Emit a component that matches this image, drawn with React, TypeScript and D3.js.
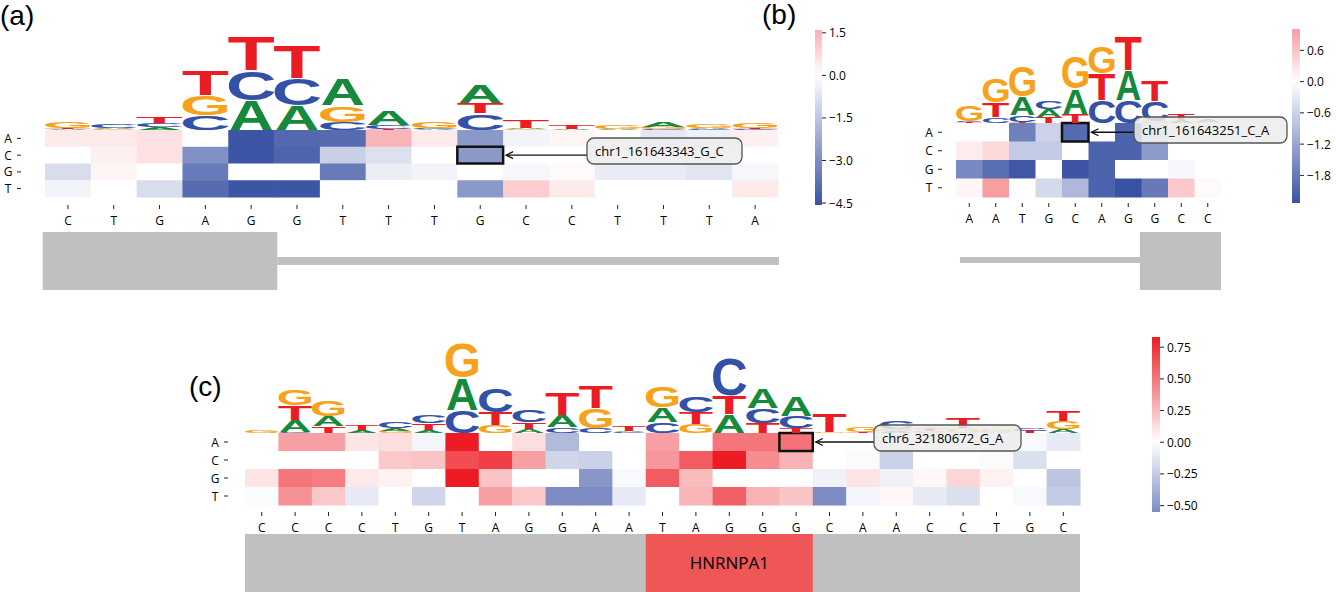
import React, { useEffect, useRef } from "react";
import * as d3 from "d3";

// bases (heatmap rows) and logo colours
const BASES = ["A", "C", "G", "T"];
const BASE_COLORS: Record<string, string> = {
  A: "#15893c",
  C: "#3351a6",
  G: "#f7a21b",
  T: "#ec1c24",
};
const BLUE = "#3a52a4";
const RED = "#ed1c24";

// ---------- panel (a) ----------
const seqA = ["C", "T", "G", "A", "G", "G", "T", "T", "T", "G", "C", "C", "T", "T", "T", "A"];
const heatA = [
  [0.4, 0.4, 0.6, 0, -4.5, -4.0, -3.9, 1.5, 0.4, -2.7, -0.3, 0.2, 0, -0.6, -0.4, 0.3],
  [0, 0.3, 0.6, -2.9, -4.5, -4.1, -1.25, -0.8, 0, -2.7, 0, 0, 0, 0, -0.1, 0],
  [-0.9, 0.2, 0, -3.5, 0, 0, -3.5, -0.45, -0.3, 0, -0.2, 0.1, -0.5, -0.5, -0.7, -0.2],
  [-0.3, 0, -0.9, -3.9, -4.5, -4.5, 0, 0, 0, -2.7, 1.0, 0.4, 0, 0, 0, 0.4],
];
const logoA: [string, number][][] = [
  [["A", 0.1], ["T", 0.1], ["G", 0.6]],
  [["G", 0.1], ["A", 0.1], ["C", 0.4]],
  [["A", 0.3], ["C", 0.4], ["T", 0.6]],
  [["C", 1.5], ["G", 2.0], ["T", 2.5]],
  [["A", 3.0], ["C", 3.0], ["T", 3.5]],
  [["A", 2.5], ["C", 2.7], ["T", 3.3]],
  [["C", 0.8], ["G", 1.7], ["A", 2.7]],
  [["T", 0.1], ["C", 0.4], ["A", 1.4]],
  [["A", 0.1], ["C", 0.1], ["G", 0.6]],
  [["C", 1.7], ["T", 1.0], ["A", 1.8]],
  [["G", 0.1], ["A", 0.1], ["T", 0.8]],
  [["A", 0.1], ["T", 0.4]],
  [["A", 0.1], ["G", 0.4]],
  [["C", 0.1], ["G", 0.2], ["A", 0.5]],
  [["C", 0.1], ["A", 0.1], ["G", 0.4]],
  [["C", 0.1], ["T", 0.1], ["G", 0.5]],
];
const cbTicksA = [1.5, 0, -1.5, -3.0, -4.5];
const geneA = [
  { from: -0.05, to: 5.07, kind: "exon", label: "" },
  { from: 5.07, to: 16.02, kind: "intron", label: "" },
];

// ---------- panel (b) ----------
const seqB = ["A", "A", "T", "G", "C", "A", "G", "G", "C", "C"];
const heatB = [
  [0, 0, -1.7, -0.6, -2.0, 0, -2.1, -0.5, 0, 0],
  [0.2, 0.4, -0.7, -0.7, 0, -2.1, -2.1, -1.35, 0, 0],
  [-1.6, -1.95, -2.25, 0, -2.3, -2.1, 0, 0, -0.1, 0],
  [0.1, 1.0, 0, -0.5, -0.95, -2.1, -2.33, -1.8, 0.55, 0.05],
];
const logoB: [string, number][][] = [
  [["T", 0.1], ["C", 0.1], ["G", 1.7]],
  [["C", 0.6], ["T", 1.5], ["G", 2.5]],
  [["T", 0.1], ["C", 0.7], ["A", 1.8], ["G", 3.2]],
  [["T", 0.6], ["A", 0.8], ["C", 0.8]],
  [["T", 0.9], ["A", 2.5], ["G", 3.3]],
  [["C", 2.3], ["T", 2.7], ["G", 2.8]],
  [["C", 2.3], ["A", 3.0], ["T", 3.5]],
  [["G", 0.2], ["C", 2.0], ["T", 2.1]],
  [["A", 0.3], ["T", 0.7]],
  [["G", 0.1], ["A", 0.2]],
];
const cbTicksB = [0.6, 0, -0.6, -1.2, -1.8];
const geneB = [
  { from: 0.15, to: 6.94, kind: "intron", label: "" },
  { from: 6.94, to: 10, kind: "exon", label: "" },
];

// ---------- panel (c) ----------
const seqC = ["C", "C", "C", "C", "T", "G", "T", "A", "G", "G", "A", "A", "T", "A", "G", "G", "G", "C", "A", "A", "C", "C", "T", "G", "C"];
const heatC = [
  [0, 0.35, 0.35, 0.1, 0.12, -0.05, 0.83, 0, 0.12, -0.33, 0, 0, 0.35, 0, 0.5, 0.5, 0.52, 0, 0, 0, -0.02, 0, 0, -0.03, -0.1],
  [0, 0, 0, 0, 0.2, 0.22, 0.65, 0.7, 0.35, -0.2, -0.22, 0, 0.38, 0.6, 0.83, 0.42, 0.28, 0, -0.02, -0.22, 0, 0, -0.02, -0.15, 0],
  [0.1, 0.5, 0.48, 0.08, 0.05, 0, 0.83, 0.22, 0, 0, -0.5, -0.03, 0.6, 0.25, 0, 0, 0, -0.06, 0.1, -0.06, 0.03, 0.15, 0.05, 0, -0.28],
  [-0.02, 0.4, 0.2, -0.1, 0, -0.2, 0, 0.35, 0.2, -0.55, -0.55, -0.1, 0, 0.27, 0.58, 0.28, 0.22, -0.55, -0.05, 0.03, -0.1, -0.15, 0, -0.03, -0.25],
];
const logoC: [string, number][][] = [
  [["G", 0.3]],
  [["C", 0.1], ["A", 1.2], ["T", 1.5], ["G", 1.7]],
  [["T", 0.7], ["A", 1.0], ["G", 1.7]],
  [["A", 0.3], ["T", 0.5]],
  [["G", 0.2], ["A", 0.3], ["C", 0.7]],
  [["A", 0.3], ["T", 0.7], ["C", 0.8]],
  [["C", 2.3], ["A", 3.2], ["G", 3.5]],
  [["G", 0.8], ["T", 1.3], ["C", 2.5]],
  [["A", 0.4], ["T", 0.7], ["C", 1.2]],
  [["C", 0.6], ["A", 1.2], ["T", 2.3]],
  [["C", 0.5], ["G", 2.0], ["T", 2.3]],
  [["C", 0.1], ["A", 0.1], ["T", 0.5]],
  [["C", 1.1], ["A", 1.5], ["G", 2.2]],
  [["G", 0.9], ["T", 1.2], ["C", 1.7]],
  [["A", 1.9], ["T", 1.8], ["C", 3.8]],
  [["T", 1.0], ["C", 1.5], ["A", 2.0]],
  [["T", 0.5], ["C", 1.2], ["A", 2.0]],
  [["G", 0.1], ["T", 1.9]],
  [["T", 0.1], ["G", 0.6]],
  [["A", 0.2], ["G", 0.2], ["C", 0.8]],
  [["G", 0.2], ["T", 0.3]],
  [["G", 0.5], ["T", 1.0]],
  [["A", 0.1], ["G", 0.3]],
  [["T", 0.2], ["C", 0.3]],
  [["A", 0.4], ["G", 0.8], ["T", 1.0]],
];
const cbTicksC = [0.75, 0.5, 0.25, 0, -0.25, -0.5];
const geneC = [
  { from: 0, to: 25, kind: "exon", label: "" },
  { from: 12, to: 17, kind: "motif", label: "HNRNPA1" },
];

// glyph ink boxes for Liberation Sans Bold (em units): xMin, xMax, yMin, yMax
const GLYPH: Record<string, number[]> = {
  A: [0.0, 0.722, 0, 0.716],
  C: [0.043, 0.679, -0.012, 0.728],
  G: [0.046, 0.723, -0.012, 0.728],
  T: [0.019, 0.593, 0, 0.716],
};

const panels = [
  {
    tag: "(a)", tagX: 0, tagY: 25,
    seq: seqA, heat: heatA, logo: logoA, gene: geneA,
    x0: 45, x1: 778, y0: 130, y1: 197,
    rowLabelX: 8, rowTickX: 17, colTickY: 205, colLabelY: 225,
    vmax: 4.57,
    cb: { x: 815, w: 7, y0: 30, y1: 205, top: 1.6, bottom: -4.57, ticks: cbTicksA, fmt: ".1f" },
    mark: { col: 9, row: 1, text: "chr1_161643343_G_C", bx: 587, by: 138, bw: 155, bh: 26 },
    exonY: [232, 290], intronY: [257, 265],
  },
  {
    tag: "(b)", tagX: 762, tagY: 24,
    seq: seqB, heat: heatB, logo: logoB, gene: geneB,
    x0: 956, x1: 1221, y0: 123, y1: 197,
    rowLabelX: 929, rowTickX: 938, colTickY: 203, colLabelY: 223,
    vmax: 2.33,
    cb: { x: 1292, w: 8, y0: 29, y1: 203, top: 1.01, bottom: -2.33, ticks: cbTicksB, fmt: ".1f" },
    mark: { col: 4, row: 0, text: "chr1_161643251_C_A", bx: 1134, by: 117, bw: 153, bh: 26 },
    exonY: [232, 290], intronY: [257, 263],
  },
  {
    tag: "(c)", tagX: 189, tagY: 396,
    seq: seqC, heat: heatC, logo: logoC, gene: geneC,
    x0: 245, x1: 1080, y0: 433, y1: 505,
    rowLabelX: 215, rowTickX: 224, colTickY: 512, colLabelY: 532,
    vmax: 0.83,
    cb: { x: 1152, w: 8, y0: 337, y1: 512, top: 0.83, bottom: -0.55, ticks: cbTicksC, fmt: ".2f" },
    mark: { col: 16, row: 0, text: "chr6_32180672_G_A", bx: 874, by: 425, bw: 147, bh: 26 },
    exonY: [534, 600], intronY: [534, 600],
  },
];

const App: React.FC = () => {
  const svgRef = useRef<SVGSVGElement | null>(null);

  useEffect(() => {
    const svg = d3.select(svgRef.current);
    svg.selectAll("*").remove();
    const defs = svg.append("defs");
    const sans = "'Open Sans', 'DejaVu Sans', sans-serif";

    panels.forEach((p, pi) => {
      const n = p.seq.length;
      const x = d3.scaleBand<number>().domain(d3.range(n)).range([p.x0, p.x1]);
      const y = d3.scaleBand<string>().domain(BASES).range([p.y0, p.y1]);
      const xg = d3.scaleLinear().domain([0, n]).range([p.x0, p.x1]);
      const logoY = d3.scaleLinear().domain([0, 1]).range([0, 10]);
      const color = d3
        .scaleLinear<string>()
        .domain([-p.vmax, 0, p.vmax])
        .range([BLUE, "#ffffff", RED])
        .clamp(true);

      const g = svg.append("g");

      // panel tag
      g.append("text")
        .attr("x", p.tagX)
        .attr("y", p.tagY)
        .attr("font-family", "'Liberation Sans', Arial, sans-serif")
        .attr("font-size", 28)
        .text(p.tag);

      // heatmap
      BASES.forEach((b, ri) => {
        g.selectAll(`.cell${ri}`)
          .data(p.heat[ri])
          .enter()
          .append("rect")
          .attr("x", (_, i) => x(i) as number)
          .attr("y", y(b) as number)
          .attr("width", x.bandwidth() + 0.5)
          .attr("height", y.bandwidth() + 0.5)
          .attr("fill", (d) => color(d));

        g.append("text")
          .attr("x", p.rowLabelX)
          .attr("y", (y(b) as number) + y.bandwidth() / 2 + 4.5)
          .attr("text-anchor", "middle")
          .attr("font-family", sans)
          .attr("font-size", 12)
          .text(b);
        g.append("line")
          .attr("x1", p.rowTickX)
          .attr("x2", p.rowTickX + 4)
          .attr("y1", (y(b) as number) + y.bandwidth() / 2)
          .attr("y2", (y(b) as number) + y.bandwidth() / 2)
          .attr("stroke", "#222")
          .attr("stroke-width", 1);
      });

      // column ticks and labels
      p.seq.forEach((s, i) => {
        const cx = (x(i) as number) + x.bandwidth() / 2;
        g.append("line")
          .attr("x1", cx)
          .attr("x2", cx)
          .attr("y1", p.colTickY)
          .attr("y2", p.colTickY + 4)
          .attr("stroke", "#222");
        g.append("text")
          .attr("x", cx)
          .attr("y", p.colLabelY)
          .attr("text-anchor", "middle")
          .attr("font-family", sans)
          .attr("font-size", 12)
          .text(s);
      });

      // highlighted cell
      const m = p.mark;
      const hx = x(m.col) as number;
      const hy = y(BASES[m.row]) as number;
      g.append("rect")
        .attr("x", hx)
        .attr("y", hy)
        .attr("width", x.bandwidth())
        .attr("height", y.bandwidth())
        .attr("fill", "none")
        .attr("stroke", "#111")
        .attr("stroke-width", 2.5);

      // sequence logo
      const lw = x.bandwidth() * 0.97;
      p.logo.forEach((stack, i) => {
        let base = p.y0;
        const lx = (x(i) as number) + (x.bandwidth() - lw) / 2;
        stack.forEach(([ch, v]) => {
          const h = logoY(v);
          const gm = GLYPH[ch];
          const F = 100;
          const sx = lw / ((gm[1] - gm[0]) * F);
          const sy = h / ((gm[3] - gm[2]) * F);
          g.append("text")
            .text(ch)
            .attr("font-family", "'Liberation Sans', Arial, sans-serif")
            .attr("font-weight", 700)
            .attr("font-size", F)
            .attr("fill", BASE_COLORS[ch])
            .attr(
              "transform",
              `translate(${lx},${base - h}) scale(${sx},${sy}) translate(${-gm[0] * F},${gm[3] * F})`,
            );
          base -= h;
        });
      });

      // annotation box + arrow
      const ay = hy + y.bandwidth() / 2;
      const tip = hx + x.bandwidth() + 3;
      g.append("line")
        .attr("x1", m.bx)
        .attr("x2", tip)
        .attr("y1", ay)
        .attr("y2", ay)
        .attr("stroke", "#111")
        .attr("stroke-width", 1.3);
      g.append("path")
        .attr("d", `M${tip + 7},${ay - 3.5}L${tip},${ay}L${tip + 7},${ay + 3.5}`)
        .attr("fill", "none")
        .attr("stroke", "#111")
        .attr("stroke-width", 1.3);
      g.append("rect")
        .attr("x", m.bx)
        .attr("y", m.by)
        .attr("width", m.bw)
        .attr("height", m.bh)
        .attr("rx", 7)
        .attr("fill", "#ececec")
        .attr("fill-opacity", 0.85)
        .attr("stroke", "#555")
        .attr("stroke-width", 1.3);
      g.append("text")
        .attr("x", m.bx + 8)
        .attr("y", m.by + m.bh / 2 + 4.5)
        .attr("font-family", sans)
        .attr("font-size", 13)
        .text(m.text);

      // gene structure
      p.gene.forEach((seg) => {
        const yy = seg.kind === "intron" ? p.intronY : p.exonY;
        g.append("rect")
          .attr("x", xg(seg.from))
          .attr("y", yy[0])
          .attr("width", xg(seg.to) - xg(seg.from))
          .attr("height", yy[1] - yy[0])
          .attr("fill", seg.kind === "motif" ? "#ef5656" : "#c0c0c0");
        if (seg.label) {
          g.append("text")
            .attr("x", (xg(seg.from) + xg(seg.to)) / 2)
            .attr("y", yy[0] + 35)
            .attr("text-anchor", "middle")
            .attr("font-family", sans)
            .attr("font-size", 17)
            .text(seg.label);
        }
      });

      // colorbar
      const cb = p.cb;
      const cy = d3.scaleLinear().domain([cb.top, cb.bottom]).range([cb.y0, cb.y1]);
      const gid = `cbgrad${pi}`;
      const grad = defs
        .append("linearGradient")
        .attr("id", gid)
        .attr("x1", 0)
        .attr("x2", 0)
        .attr("y1", 0)
        .attr("y2", 1);
      d3.range(21).forEach((k) => {
        const v = cb.top + ((cb.bottom - cb.top) * k) / 20;
        grad
          .append("stop")
          .attr("offset", `${k * 5}%`)
          .attr("stop-color", color(v));
      });
      g.append("rect")
        .attr("x", cb.x)
        .attr("y", cb.y0)
        .attr("width", cb.w)
        .attr("height", cb.y1 - cb.y0)
        .attr("fill", `url(#${gid})`);
      const fmt = d3.format(cb.fmt);
      cb.ticks.forEach((t) => {
        g.append("line")
          .attr("x1", cb.x + cb.w)
          .attr("x2", cb.x + cb.w + 4)
          .attr("y1", cy(t))
          .attr("y2", cy(t))
          .attr("stroke", "#222");
        g.append("text")
          .attr("x", cb.x + cb.w + 7)
          .attr("y", cy(t) + 4.5)
          .attr("font-family", sans)
          .attr("font-size", 12)
          .text(fmt(t));
      });
    });
  }, []);

  return (
    <div>
      <style>{`body{margin:0}`}</style>
      <svg
        ref={svgRef}
        width={1336}
        height={592}
        style={{ display: "block", background: "#fff" }}
      ></svg>
    </div>
  );
};

export default App;
